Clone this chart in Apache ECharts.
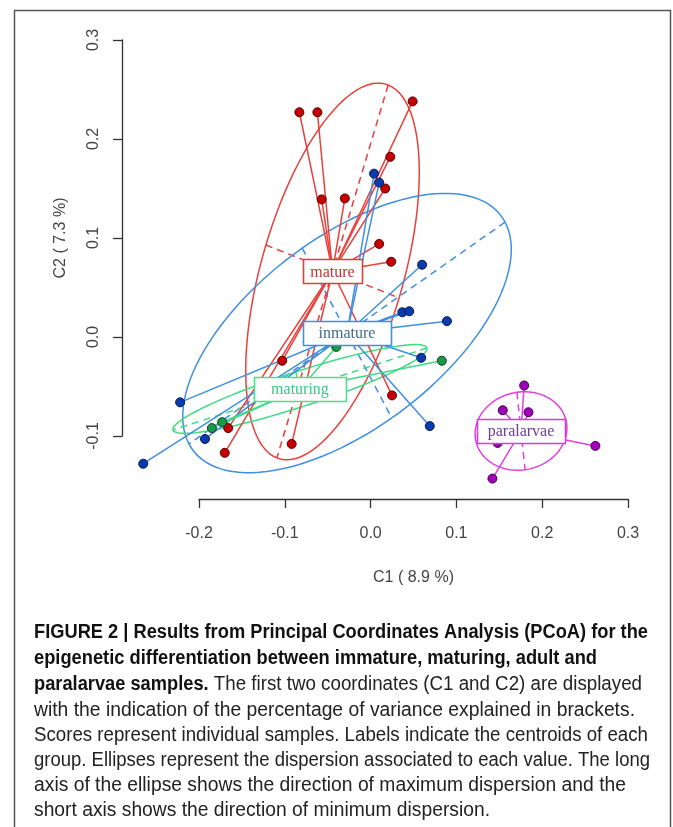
<!DOCTYPE html>
<html><head><meta charset="utf-8">
<script src="https://cdn.jsdelivr.net/npm/echarts@6/dist/echarts.min.js"></script>
<style>html,body{margin:0;padding:0;background:#fff}#c{width:673px;height:827px}</style>
</head><body><div id="c"></div>
<script>
// ---------- data ----------
const groupNames = ['mature', 'inmature', 'maturing', 'paralarvae'];

const matureX = [-0.083, -0.062, 0.049, 0.023, 0.017, -0.057, -0.030, 0.010, 0.024, -0.103, -0.166, -0.170, -0.092, 0.025];
const matureY = [0.227, 0.227, 0.238, 0.182, 0.150, 0.139, 0.140, 0.094, 0.076, -0.024, -0.092, -0.117, -0.108, -0.059];

const inmatureX = [0.004, 0.010, 0.060, 0.037, 0.045, 0.089, 0.059, 0.069, -0.222, -0.193, -0.265];
const inmatureY = [0.165, 0.156, 0.073, 0.025, 0.026, 0.016, -0.021, -0.090, -0.066, -0.103, -0.128];

const maturingX = [-0.040, 0.083, -0.173, -0.185];
const maturingY = [-0.010, -0.024, -0.086, -0.092];

const paralarvaeX = [0.179, 0.154, 0.184, 0.148, 0.262, 0.142];
const paralarvaeY = [-0.049, -0.074, -0.076, -0.107, -0.110, -0.143];

// centroids and dispersion ellipses (centre, semi-axes, angle of long axis in degrees)
const centroidX = [-0.0444, -0.0275, -0.0823, 0.1753];
const centroidY = [0.0662, 0.0040, -0.0525, -0.0950];
const ellMajor  = [0.1992, 0.2156, 0.1537, 0.0537];
const ellMinor  = [0.0821, 0.1004, 0.0180, 0.0394];
const ellAngle  = [71.0, 31.3, 15.6, 6.9];

const xTicks = [-0.2, -0.1, 0.0, 0.1, 0.2, 0.3];
const yTicks = [-0.1, 0.0, 0.1, 0.2, 0.3];

// ---------- styles ----------
const lineColors  = ['#e8413c', '#3f8fe0', '#3ddc84', '#e040e0'];
const pointColors = ['#c40000', '#0a3cb0', '#1a9a4a', '#a000b8'];
const pointBorder = ['#5a0000', '#061a50', '#0a4020', '#400050'];
const labelColors = ['#c03434', '#3f6a92', '#38c888', '#6e3c9c'];
const labelBorder = ['#d84040', '#3f8fe0', '#4ddc94', '#d040d8'];
const labelBoxW   = [59, 88, 92, 88];
const labelBoxH   = 24;

const xs = [matureX, inmatureX, maturingX, paralarvaeX];
const ys = [matureY, inmatureY, maturingY, paralarvaeY];

const series = [];

// ellipses with dashed axes
groupNames.forEach((g, i) => {
  series.push({
    type: 'custom', clip: false, z: 2, silent: true,
    data: [[centroidX[i], centroidY[i]]],
    renderItem: function (params, api) {
      const cx = api.value(0), cy = api.value(1);
      const a = ellMajor[i], b = ellMinor[i], th = ellAngle[i] * Math.PI / 180;
      const ct = Math.cos(th), st = Math.sin(th);
      const pts = [];
      for (let k = 0; k <= 120; k++) {
        const u = 2 * Math.PI * k / 120;
        const dx = a * Math.cos(u) * ct - b * Math.sin(u) * st;
        const dy = a * Math.cos(u) * st + b * Math.sin(u) * ct;
        pts.push(api.coord([cx + dx, cy + dy]));
      }
      const p1 = api.coord([cx + a * ct, cy + a * st]);
      const p2 = api.coord([cx - a * ct, cy - a * st]);
      const q1 = api.coord([cx - b * st, cy + b * ct]);
      const q2 = api.coord([cx + b * st, cy - b * ct]);
      const st1 = { stroke: lineColors[i], lineWidth: 1.5, fill: null };
      const st2 = { stroke: lineColors[i], lineWidth: 1.5, lineDash: [7, 5], fill: null };
      return { type: 'group', children: [
        { type: 'polyline', shape: { points: pts }, style: st1 },
        { type: 'line', shape: { x1: p1[0], y1: p1[1], x2: p2[0], y2: p2[1] }, style: st2 },
        { type: 'line', shape: { x1: q1[0], y1: q1[1], x2: q2[0], y2: q2[1] }, style: st2 }
      ]};
    }
  });
});

// star lines from each sample to its centroid
groupNames.forEach((g, i) => {
  series.push({
    type: 'custom', clip: false, z: 3, silent: true,
    data: xs[i].map((x, k) => [x, ys[i][k]]),
    renderItem: function (params, api) {
      const p = api.coord([api.value(0), api.value(1)]);
      const c = api.coord([centroidX[i], centroidY[i]]);
      return { type: 'line', shape: { x1: p[0], y1: p[1], x2: c[0], y2: c[1] },
               style: { stroke: lineColors[i], lineWidth: 1.5 } };
    }
  });
});

// sample points
groupNames.forEach((g, i) => {
  series.push({
    type: 'scatter', name: g, clip: false, z: 4, silent: true,
    symbolSize: 9,
    itemStyle: { color: pointColors[i], borderColor: pointBorder[i], borderWidth: 1, opacity: 1 },
    data: xs[i].map((x, k) => [x, ys[i][k]])
  });
});

// centroid labels (boxed)
series.push({
  type: 'custom', clip: false, z: 10, silent: true,
  data: groupNames.map((g, i) => [centroidX[i], centroidY[i], i]),
  renderItem: function (params, api) {
    const i = api.value(2);
    const c = api.coord([api.value(0), api.value(1)]);
    const w = labelBoxW[i], h = labelBoxH;
    return { type: 'group', children: [
      { type: 'rect', shape: { x: Math.round(c[0] - w / 2) + 0.5, y: Math.round(c[1] - h / 2) + 0.5, width: w, height: h },
        style: { fill: '#fff', stroke: labelBorder[i], lineWidth: 1.6 } },
      { type: 'text', x: c[0], y: c[1] + 1,
        style: { text: groupNames[i], fill: labelColors[i], align: 'center', verticalAlign: 'middle',
                 fontSize: 16, fontFamily: '"Liberation Serif", "DejaVu Serif", serif' } }
    ]};
  }
});

// ---------- caption ----------
const capBoldLines = [
  'FIGURE 2 | Results from Principal Coordinates Analysis (PCoA) for the',
  'epigenetic differentiation between immature, maturing, adult and'
];
const capMixedBold = 'paralarvae samples.';
const capMixedRest = ' The first two coordinates (C1 and C2) are displayed';
const capLines = [
  'with the indication of the percentage of variance explained in brackets.',
  'Scores represent individual samples. Labels indicate the centroids of each',
  'group. Ellipses represent the dispersion associated to each value. The long',
  'axis of the ellipse shows the direction of maximum dispersion and the',
  'short axis shows the direction of minimum dispersion.'
];
const captionY = [633, 659, 685, 711, 736, 761, 786, 811];
const captionLeft = 34;
const captionRight = [648, 597, 642, 635, 648, 650, 626, 490];

const capFont = '"Liberation Sans", Arial, sans-serif';
const capSize = 19.5;
const mctx = document.createElement('canvas').getContext('2d');
function measure(t, bold) {
  mctx.font = (bold ? 'bold ' : '') + capSize + 'px ' + capFont;
  return mctx.measureText(t).width;
}
const boldScale = (captionRight[0] - captionLeft) / measure(capBoldLines[0], true);

function capText(t, x, y, sx, bold) {
  return {
    type: 'text', x: x, y: y, scaleX: sx, silent: true,
    style: {
      text: t, x: 0, y: 0, fill: bold ? '#111' : '#222', fontSize: capSize, fontFamily: capFont,
      fontWeight: bold ? 'bold' : 'normal', verticalAlign: 'middle', align: 'left'
    }
  };
}

const graphic = [
  { type: 'rect', silent: true, shape: { x: 14.5, y: 10.5, width: 656, height: 900 },
    style: { fill: null, stroke: '#555', lineWidth: 1.5 } }
];
graphic.push(capText(capBoldLines[0], captionLeft, captionY[0], boldScale, true));
graphic.push(capText(capBoldLines[1], captionLeft, captionY[1],
  (captionRight[1] - captionLeft) / measure(capBoldLines[1], true), true));
const bw = measure(capMixedBold, true) * boldScale;
graphic.push(capText(capMixedBold, captionLeft, captionY[2], boldScale, true));
graphic.push(capText(capMixedRest, captionLeft + bw, captionY[2],
  (captionRight[2] - captionLeft - bw) / measure(capMixedRest, false), false));
capLines.forEach((t, k) => graphic.push(capText(t, captionLeft, captionY[3 + k],
  (captionRight[3 + k] - captionLeft) / measure(t, false), false)));

const axisText = { fontFamily: '"Liberation Sans", Arial, sans-serif', fontSize: 16, color: '#444' };
const fmt = v => (Math.abs(v) < 1e-9 ? 0 : v).toFixed(1);

const option = {
  backgroundColor: '#fff',
  animation: false,
  grid: { left: 199, right: 45, top: 40, bottom: 391 },
  xAxis: {
    type: 'value', min: xTicks[0], max: xTicks[xTicks.length - 1], interval: 0.1,
    offset: 63,
    axisLine: { show: true, onZero: false, lineStyle: { color: '#333', width: 1.3 } },
    axisTick: { show: true, length: 9, lineStyle: { color: '#333', width: 1.3 } },
    splitLine: { show: false },
    axisLabel: Object.assign({ margin: 27, formatter: fmt }, axisText),
    name: 'C1 ( 8.9 %)', nameLocation: 'middle', nameGap: 71,
    nameTextStyle: axisText
  },
  yAxis: {
    type: 'value', min: yTicks[0], max: yTicks[yTicks.length - 1], interval: 0.1,
    offset: 77,
    axisLine: { show: true, onZero: false, lineStyle: { color: '#333', width: 1.3 } },
    axisTick: { show: true, length: 9, lineStyle: { color: '#333', width: 1.3 } },
    splitLine: { show: false },
    axisLabel: Object.assign({ margin: 20, rotate: 90, formatter: fmt }, axisText),
    name: 'C2 ( 7.3 %)', nameLocation: 'middle', nameGap: 53,
    nameTextStyle: axisText
  },
  graphic: graphic,
  series: series
};

const chart = echarts.init(document.getElementById('c'), null, { renderer: 'canvas' });
chart.setOption(option);
</script>
</body></html>
